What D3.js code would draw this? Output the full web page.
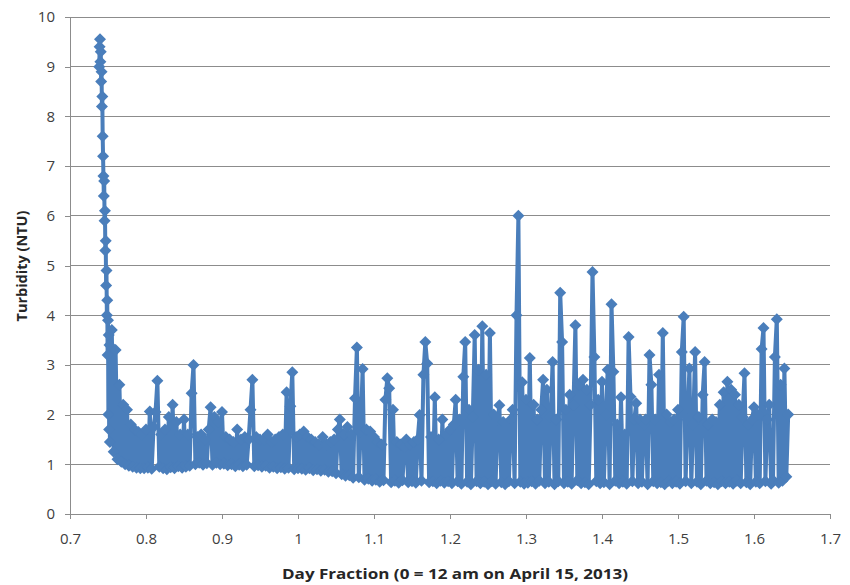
<!DOCTYPE html>
<meta charset="utf-8">
<style>
  body { margin: 0; background: #fff; }
  .grid line { stroke: #8c8c8c; stroke-width: 1px; shape-rendering: crispEdges; }
  .axis path, .axis line { stroke: #8c8c8c; shape-rendering: crispEdges; }
  .axis text { font-family: "Open Sans", sans-serif; font-size: 15px; fill: #404040; }
  .series { fill: none; stroke: #4a7ebb; stroke-width: 4px; stroke-linejoin: round; }
  .marks path { fill: #4a7ebb; }
  .label { font-family: "Open Sans", sans-serif; font-weight: bold; fill: #262626; }
</style>
<svg width="850" height="585"></svg>
<script src="https://d3js.org/d3.v7.min.js"></script>
<script>
  var svg = d3.select("svg");

  var xTicks = [0.7, 0.8, 0.9, 1, 1.1, 1.2, 1.3, 1.4, 1.5, 1.6, 1.7],
    yTicks = [0, 1, 2, 3, 4, 5, 6, 7, 8, 9, 10];

  // steep first flush, sampled every 0.0005 day
  var headDay = [0.7385, 0.7390, 0.7395, 0.7400, 0.7405, 0.7410, 0.7415, 0.7420, 0.7425, 0.7430,
    0.7435, 0.7440, 0.7445, 0.7450, 0.7455, 0.7460, 0.7465, 0.7470, 0.7475, 0.7480,
    0.7485, 0.7490, 0.7495, 0.7500, 0.7505, 0.7510, 0.7515, 0.7520];
  var headNtu = [9.0, 9.4, 9.55, 9.1, 9.3, 8.7, 8.9, 8.2, 8.4, 7.6,
    7.2, 6.8, 6.4, 6.7, 5.9, 6.1, 5.3, 5.5, 4.6, 4.9,
    4.0, 4.3, 3.2, 3.9, 2.0, 3.6, 1.7, 3.4];

  // rest of the record, one reading every 0.0025 day
  var step = 0.0025;

  var earlyStart = 0.7525;
  var earlyNtu = [
    1.45, 3.7, 1.25, 3.3, 1.1, 2.6, 1.05, 2.2, 1.0, 2.1, 0.97, 1.8, 0.95, 1.7, 0.93, 1.65, 0.92, 1.6, 0.92, 1.7,
    0.93, 2.06, 0.91, 1.75, 2.05, 2.68, 0.95, 1.6, 0.92, 1.7, 0.9, 1.95, 0.94, 2.2, 0.92, 1.85, 0.96, 1.6, 0.93, 1.9,
    0.95, 1.6, 0.97, 2.43, 3.0, 1.0, 1.55, 1.03, 1.6, 0.99, 1.5, 1.02, 1.7, 2.15, 0.99, 1.95, 1.03, 1.85, 1.0, 2.05,
    1.01, 1.55, 0.98, 1.5, 1.0, 1.45, 0.96, 1.7, 0.99, 1.5, 0.96, 1.55, 0.99, 1.5, 2.1, 2.7, 0.96, 1.55, 0.98, 1.5,
    0.95, 1.5, 0.97, 1.6, 0.93, 1.45, 0.95, 1.5, 0.92, 1.55, 0.94, 1.6, 0.91, 2.45, 0.93, 2.17, 2.85, 0.9, 1.55, 0.92
  ];

  var midStart = 1.0025;
  var midNtu = [
    1.6, 0.91, 1.66, 0.89, 1.55, 0.92, 1.5, 0.88, 1.45, 0.9, 1.4, 0.87, 1.55, 0.89, 1.4, 0.85, 1.45, 0.86, 1.5, 0.82,
    1.7, 1.9, 0.8, 1.6, 0.77, 1.75, 0.78, 1.6, 0.73, 2.33, 3.35, 0.74, 1.65, 2.92, 0.69, 1.7, 0.71, 1.66, 0.67, 1.55,
    0.69, 1.45, 0.65, 1.4, 0.68, 2.3, 2.73, 2.53, 0.64, 2.1, 0.67, 1.45, 0.63, 1.4, 0.68, 1.35, 1.5, 0.64, 1.4, 0.66,
    1.45, 0.63, 1.5, 1.99, 0.67, 2.8, 3.46, 3.03, 0.64, 1.55, 0.66, 2.35, 0.62, 1.5, 0.67, 1.9, 0.63, 1.6, 0.66, 1.7,
    0.62, 1.8, 2.3, 0.66, 1.9, 0.61, 2.76, 3.46, 0.65, 2.1, 0.6, 1.95, 3.6, 0.66, 2.9, 0.62, 3.78, 0.65, 2.8, 0.6,
    3.64, 0.66, 2.0, 0.61, 1.9, 2.19, 0.64, 1.85, 0.6, 1.75, 0.66, 1.9, 2.1, 0.62, 4.0, 6.0, 0.65, 2.65, 0.61, 2.3
  ];

  var lateStart = 1.3025;
  var lateNtu = [
    0.63, 3.14, 0.66, 2.2, 0.61, 1.9, 0.67, 2.1, 2.7, 0.62, 2.5, 0.65, 1.95, 3.06, 0.6, 1.9, 0.66, 4.45, 3.46, 0.62,
    2.1, 0.65, 2.4, 0.61, 2.2, 3.8, 0.68, 2.6, 0.62, 2.7, 0.64, 2.5, 0.6, 2.2, 4.87, 3.16, 0.66, 2.3, 0.62, 2.66,
    0.64, 2.0, 2.9, 0.6, 4.22, 2.86, 0.67, 1.8, 0.62, 2.35, 0.65, 1.6, 0.61, 3.56, 2.36, 0.66, 1.9, 2.23, 0.62, 1.9,
    0.65, 1.8, 1.9, 0.6, 3.2, 2.6, 0.66, 1.9, 0.62, 2.8, 0.64, 3.64, 0.6, 2.0, 0.67, 1.85, 0.62, 1.9, 0.65, 2.1,
    0.61, 3.26, 3.97, 0.66, 1.9, 2.93, 0.62, 1.8, 3.26, 0.65, 1.95, 0.6, 2.4, 3.06, 0.67, 1.8, 0.62, 1.9, 0.64, 1.85,
    0.6, 2.2, 0.66, 2.45, 0.62, 2.66, 0.65, 2.5, 0.61, 2.4, 0.67, 2.2, 0.62, 1.95, 2.83, 0.64, 1.8, 0.6, 1.9, 2.15,
    0.65, 2.0, 0.62, 3.32, 3.74, 0.66, 1.9, 2.2, 0.61, 0.68, 3.16, 3.92, 0.63, 2.6, 0.67, 2.93, 0.75, 2.0
  ];

  var data = headDay.map(function(d, i) {
    return { day: d, ntu: headNtu[i] };
  });
  [[earlyStart, earlyNtu], [midStart, midNtu], [lateStart, lateNtu]].forEach(function(seg) {
    seg[1].forEach(function(v, i) {
      data.push({ day: seg[0] + i * step, ntu: v });
    });
  });

  var x = d3.scaleLinear().domain([0.7, 1.7]).range([70, 830]),
    y = d3.scaleLinear().domain([0, 10]).range([514, 17]);

  svg.append("g")
    .attr("class", "grid")
    .selectAll("line")
    .data(yTicks.slice(1))
    .enter().append("line")
    .attr("x1", 70)
    .attr("x2", 830)
    .attr("y1", function(d) { return y(d); })
    .attr("y2", function(d) { return y(d); });

  svg.append("g")
    .attr("class", "axis")
    .attr("transform", "translate(70,0)")
    .call(d3.axisLeft(y).tickValues(yTicks).tickSize(5).tickSizeOuter(0).tickPadding(10));

  svg.append("g")
    .attr("class", "axis")
    .attr("transform", "translate(0,514)")
    .call(d3.axisBottom(x).tickValues(xTicks).tickSize(5).tickSizeOuter(0).tickPadding(14)
      .tickFormat(d3.format("~g")));

  var line = d3.line()
    .x(function(d) { return x(d.day); })
    .y(function(d) { return y(d.ntu); });

  svg.append("path")
    .datum(data)
    .attr("class", "series")
    .attr("d", line);

  var diamond = d3.symbol().type(d3.symbolSquare).size(72);

  svg.append("g")
    .attr("class", "marks")
    .selectAll("path")
    .data(data)
    .enter().append("path")
    .attr("d", diamond)
    .attr("transform", function(d) {
      return "translate(" + x(d.day) + "," + y(d.ntu) + ") rotate(45)";
    });

  svg.append("text")
    .attr("class", "label")
    .attr("x", 455)
    .attr("y", 579)
    .attr("text-anchor", "middle")
    .style("font-size", "15px")
    .attr("textLength", 346)
    .attr("lengthAdjust", "spacingAndGlyphs")
    .text("Day Fraction  (0 = 12 am on April 15, 2013)");

  svg.append("text")
    .attr("class", "label")
    .attr("transform", "translate(27,266) rotate(-90)")
    .attr("text-anchor", "middle")
    .style("font-size", "14.5px")
    .text("Turbidity (NTU)");
</script>
